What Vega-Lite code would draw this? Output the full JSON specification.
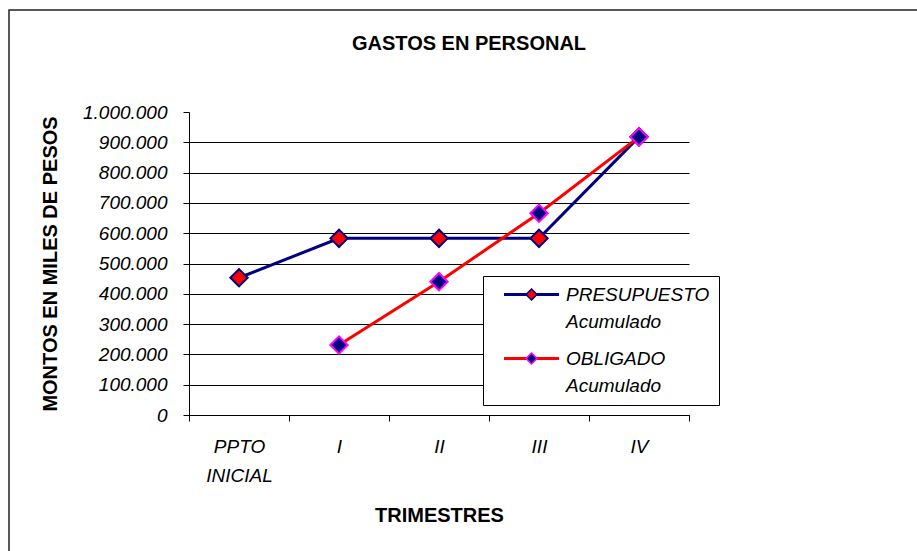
{
  "$schema": "https://vega.github.io/schema/vega-lite/v6.json",
  "width": 912,
  "height": 545,
  "autosize": {"type": "none"},
  "padding": {"left": 9, "top": 10, "right": -4, "bottom": -4},
  "background": "white",
  "title": {
    "text": "GASTOS EN PERSONAL",
    "font": "Liberation Sans",
    "fontSize": 20,
    "fontWeight": "bold",
    "color": "#000000",
    "anchor": "middle",
    "baseline": "alphabetic",
    "offset": -60,
    "dx": 4
  },
  "config": {
    "locale": {"number": {"decimal": ",", "thousands": ".", "grouping": [3], "currency": ["$", ""]}},
    "view": {"stroke": "#222222", "strokeWidth": 1.5},
    "font": "Liberation Sans",
    "style": {"guide-label": {"lineHeight": 27}}
  },
  "data": {
    "values": [
      {"trimestre": "PPTO INICIAL", "serie": "PRESUPUESTO Acumulado", "monto": 453000},
      {"trimestre": "I", "serie": "PRESUPUESTO Acumulado", "monto": 583000},
      {"trimestre": "II", "serie": "PRESUPUESTO Acumulado", "monto": 583000},
      {"trimestre": "III", "serie": "PRESUPUESTO Acumulado", "monto": 583000},
      {"trimestre": "IV", "serie": "PRESUPUESTO Acumulado", "monto": 918000},
      {"trimestre": "I", "serie": "OBLIGADO Acumulado", "monto": 231000},
      {"trimestre": "II", "serie": "OBLIGADO Acumulado", "monto": 440000},
      {"trimestre": "III", "serie": "OBLIGADO Acumulado", "monto": 666000},
      {"trimestre": "IV", "serie": "OBLIGADO Acumulado", "monto": 918000}
    ]
  },
  "encoding": {
    "x": {
      "field": "trimestre",
      "type": "nominal",
      "bandPosition": 0.5,
      "scale": {"type": "band", "domain": ["PPTO INICIAL", "I", "II", "III", "IV"], "range": [180, 680], "paddingInner": 0, "paddingOuter": 0},
      "axis": {
        "title": "TRIMESTRES",
        "titleFont": "Liberation Sans",
        "titleFontSize": 20,
        "titleFontWeight": "bold",
        "titleColor": "#000000",
        "titlePadding": 20,
        "offset": -140,
        "tickBand": "extent",
        "labelAngle": 0,
        "labelExpr": "split(datum.label, ' ')",
        "labelFont": "Liberation Sans",
        "labelFontSize": 19,
        "labelFontStyle": "italic",
        "labelColor": "#000000",
        "labelLineHeight": 29,
        "labelPadding": 16,
        "tickSize": 6,
        "tickColor": "#000000",
        "domainColor": "#000000",
        "grid": false
      }
    },
    "y": {
      "field": "monto",
      "type": "quantitative",
      "scale": {"domain": [0, 1000000], "range": [405, 102], "nice": false},
      "axis": {
        "title": "MONTOS EN MILES DE PESOS",
        "titleFont": "Liberation Sans",
        "titleFontSize": 20,
        "titleFontWeight": "bold",
        "titleColor": "#000000",
        "titlePadding": 22,
        "offset": -180,
        "values": [0, 100000, 200000, 300000, 400000, 500000, 600000, 700000, 800000, 900000, 1000000],
        "format": ",d",
        "labelFont": "Liberation Sans",
        "labelFontSize": 19,
        "labelFontStyle": "italic",
        "labelColor": "#000000",
        "labelPadding": 16,
        "labelFlush": false,
        "labelOverlap": false,
        "tickSize": 6,
        "tickColor": "#000000",
        "domainColor": "#000000",
        "grid": true,
        "gridColor": "#000000",
        "gridOpacity": {"condition": {"test": "datum.value >= 1000000", "value": 0}, "value": 1}
      }
    }
  },
  "layer": [
    {
      "mark": {"type": "line", "strokeWidth": 3},
      "encoding": {
        "order": {"value": null},
        "color": {
          "field": "serie",
          "type": "nominal",
          "scale": {"domain": ["PRESUPUESTO Acumulado", "OBLIGADO Acumulado"], "range": ["#000080", "#FF0000"]},
          "legend": {
            "orient": "none",
            "legendX": 474,
            "legendY": 266,
            "title": null,
            "symbolType": "M-5.5,0H5.5",
            "symbolSize": 100,
            "symbolStrokeWidth": 3,
            "symbolOffset": 30,
            "labelOffset": 25,
            "labelFont": "Liberation Sans",
            "labelFontSize": 19,
            "labelFontStyle": "italic",
            "labelColor": "#000000",
            "labelLimit": 300,
            "labelExpr": "split(datum.label, ' ')",
            "padding": 9,
            "rowPadding": 17,
            "strokeColor": "#000000",
            "fillColor": "#FFFFFF"
          }
        }
      }
    },
    {
      "mark": {"type": "point", "shape": "diamond", "filled": true, "size": 300, "strokeWidth": 2, "opacity": 1},
      "encoding": {
        "fill": {
          "field": "serie",
          "type": "nominal",
          "sort": "descending",
          "scale": {"range": ["#FF0000", "#000080"]},
          "legend": {
            "orient": "none",
            "legendX": 474,
            "legendY": 266,
            "title": null,
            "symbolType": "M0,-1L1,0L0,1L-1,0Z",
            "symbolSize": 121,
            "symbolStrokeWidth": 1.5,
            "symbolOffset": 30,
            "labelOffset": 25,
            "labelFont": "Liberation Sans",
            "labelFontSize": 19,
            "labelFontStyle": "italic",
            "labelOpacity": 0,
            "labelLimit": 300,
            "labelExpr": "split(datum.label, ' ')",
            "padding": 9,
            "rowPadding": 17,
            "encode": {
              "symbols": {"stroke": {"condition": {"test": "datum.value == 'OBLIGADO Acumulado'", "value": "#FF00FF"}, "value": "#000080"}}
            }
          }
        },
        "stroke": {
          "field": "serie",
          "type": "nominal",
          "sort": "descending",
          "scale": {"range": ["#000080", "#FF00FF"]},
          "legend": null
        }
      }
    }
  ]
}
